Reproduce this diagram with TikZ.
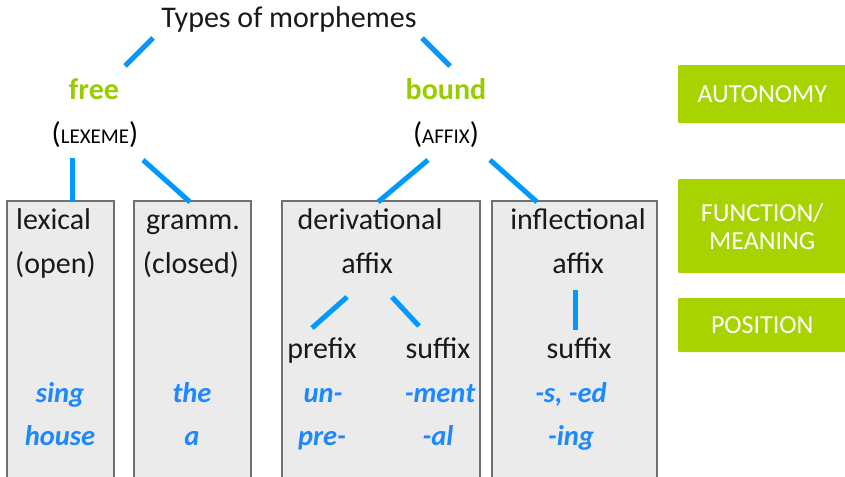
\documentclass[tikz,border=0pt]{standalone}
\usepackage{fontspec}
\setmainfont{Carlito}
\definecolor{lineblue}{HTML}{0099FF}
\definecolor{exblue}{HTML}{1E88FF}
\definecolor{grtext}{HTML}{99CC00}
\definecolor{grbox}{HTML}{A8D300}
\definecolor{boxfill}{HTML}{EBEBEB}
\definecolor{boxline}{HTML}{707070}
\begin{document}
\begin{tikzpicture}[x=1pt,y=-1pt,
  conn/.style={draw=lineblue,line width=5pt},
  txt/.style={inner sep=0pt,text height=21pt,text depth=6pt,font=\fontsize{30}{33}\selectfont,text=black!90},
  grn/.style={inner sep=0pt,text height=21pt,text depth=6pt,font=\fontsize{30}{33}\selectfont\bfseries,text=grtext},
  ex/.style={inner sep=0pt,text height=21pt,text depth=6pt,font=\fontsize{28.5}{32}\selectfont\bfseries\itshape,text=exblue},
  par/.style={inner sep=0pt,text height=21pt,text depth=6pt},
  col/.style={draw=boxline,line width=1.2pt,fill=boxfill},
  gbox/.style={fill=grbox,draw=none,rounded corners=1pt,text=white,align=center,font=\fontsize{26}{28}\selectfont}]
\useasboundingbox (0,0) rectangle (845,476);
% columns
\path[col] (7,480) -- (7,201) -- (114,201) -- (114,480);
\path[col] (134,480) -- (134,201) -- (251,201) -- (251,480);
\path[col] (282,480) -- (282,201) -- (480,201) -- (480,480);
\path[col] (492,480) -- (492,201) -- (657,201) -- (657,480);
% green boxes
\node[gbox,minimum width=168,minimum height=58,anchor=north west] (auto) at (678,65) {AUTONOMY};
\node[gbox,minimum width=168,minimum height=94,anchor=north west] (func) at (678,179) {FUNCTION/\\MEANING};
\node[gbox,minimum width=168,minimum height=54,anchor=north west] (pos) at (678,298) {POSITION};
% top tree
\node[txt] (title) at (289,20) {Types of morphemes};
\node[grn] (free) at (94,92) {free};
\node[grn] (bound) at (446,92) {bound};
\node[par] (lex) at (95,136) {{\fontsize{30}{33}\selectfont(}{\fontsize{21}{24}\selectfont LEXEME}{\fontsize{30}{33}\selectfont)}};
\node[par] (aff) at (446,136) {{\fontsize{30}{33}\selectfont(}{\fontsize{21}{24}\selectfont AFFIX}{\fontsize{30}{33}\selectfont)}};
\coordinate (t1) at (153,38); \coordinate (t1e) at (125,66);
\coordinate (t2) at (422,38); \coordinate (t2e) at (450,66);
\draw[conn] (t1) -- (t1e);
\draw[conn] (t2) -- (t2e);
\coordinate (l1) at (72,158); \coordinate (l1e) at (72,201);
\coordinate (l2) at (143,160); \coordinate (l2e) at (190,202);
\coordinate (a1) at (428,160); \coordinate (a1e) at (378,202);
\coordinate (a2) at (490,160); \coordinate (a2e) at (537,202);
\draw[conn] (l1) -- (l1e);
\draw[conn] (l2) -- (l2e);
\draw[conn] (a1) -- (a1e);
\draw[conn] (a2) -- (a2e);
% column 1
\node[txt,anchor=west] (lexical) at (16,222) {lexical};
\node[txt,anchor=west] (open) at (15,266) {(open)};
\node[ex] (sing) at (60,395) {sing};
\node[ex] (house) at (60,438) {house};
% column 2
\node[txt] (gramm) at (193,222) {gramm.};
\node[txt] (closed) at (191,266) {(closed)};
\node[ex] (the) at (192,395) {the};
\node[ex] (a) at (192,438) {a};
% column 3
\node[txt] (deriv) at (370,222) {derivational};
\node[txt] (daffix) at (367,266) {affix};
\coordinate (d1) at (347,297); \coordinate (d1e) at (312,328);
\coordinate (d2) at (392,297); \coordinate (d2e) at (419,326);
\draw[conn] (d1) -- (d1e);
\draw[conn] (d2) -- (d2e);
\node[txt] (prefix) at (322,351) {prefix};
\node[txt] (dsuffix) at (438,351) {suffix};
\node[ex] (un) at (323,395) {un-};
\node[ex] (ment) at (440,395) {-ment};
\node[ex] (pre) at (322,438) {pre-};
\node[ex] (al) at (438,438) {-al};
% column 4
\node[txt] (infl) at (578,222) {inflectional};
\node[txt] (iaffix) at (578,266) {affix};
\coordinate (i1) at (575,290); \coordinate (i1e) at (575,330);
\draw[conn] (i1) -- (i1e);
\node[txt] (isuffix) at (579,351) {suffix};
\node[ex] (sed) at (571,395) {-s, -ed};
\node[ex] (ing) at (571,438) {-ing};
\end{tikzpicture}
\end{document}
